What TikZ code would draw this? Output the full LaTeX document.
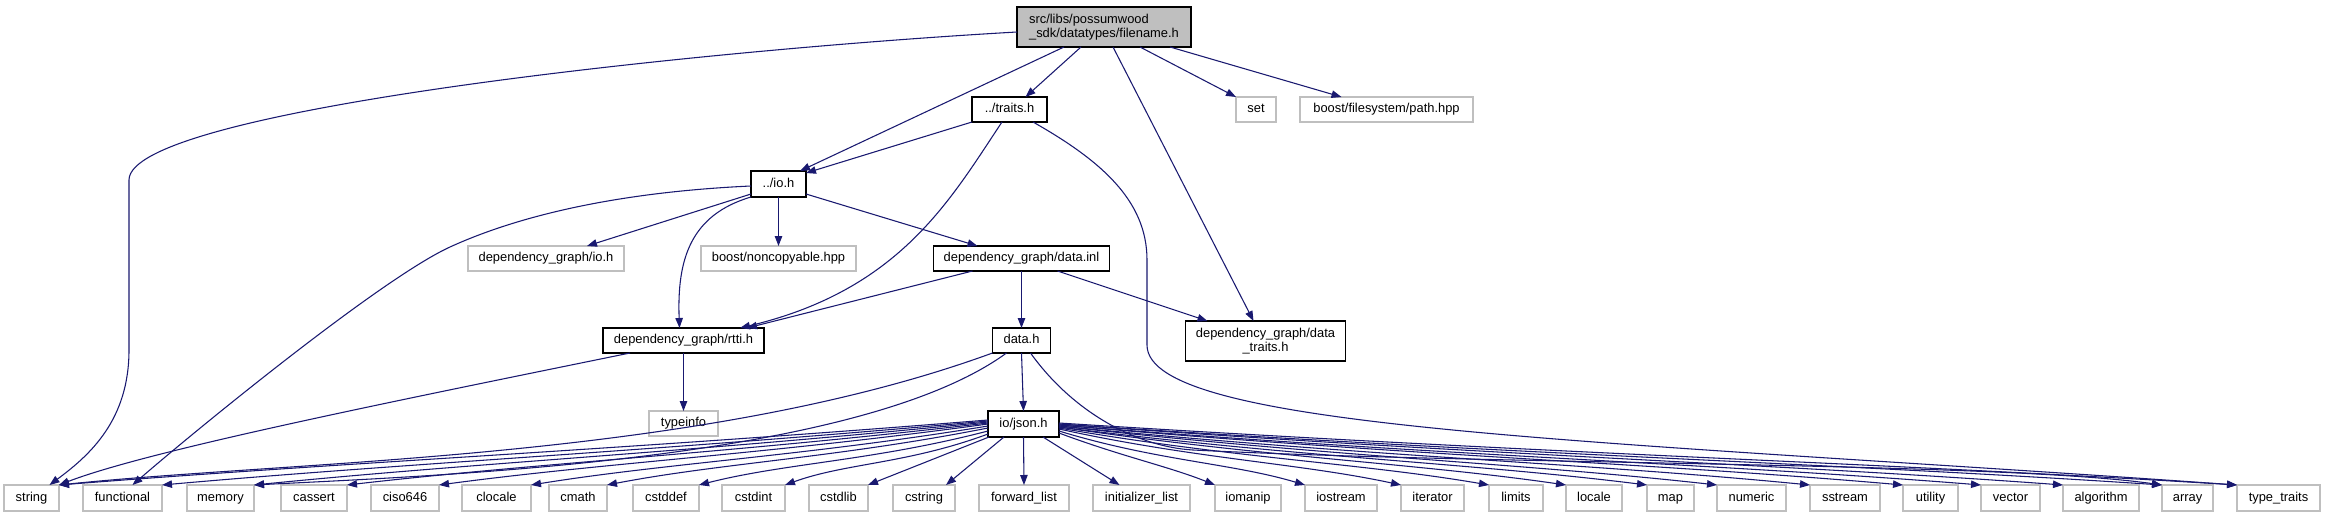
\documentclass[tikz,border=0pt]{standalone}
\usepackage{fontspec}
\setmainfont{Liberation Sans}
\usetikzlibrary{arrows.meta,calc}
\definecolor{edgecol}{HTML}{191970}
\definecolor{sysgray}{HTML}{BFBFBF}
\begin{document}
\begin{tikzpicture}[x=0.75pt,y=-0.75pt,
  every node/.style={font=\fontsize{9.67pt}{10.7pt}\selectfont, inner sep=0pt, outer sep=0pt},
  bw/.style={minimum width={(#1)*0.75pt}},
  bh/.style={minimum height={(#1)*0.75pt}},
  onel/.style={text height=7.1pt, text depth=2.1pt},
  localbox/.style={draw=black, line width=0.9pt, fill=white, rectangle},
  sysbox/.style={draw=sysgray, line width=0.9pt, fill=white, rectangle, onel, bh=26},
  edge/.style={draw=edgecol, line width=0.8pt, -{Triangle[length=7.5pt,width=5.6pt]}}]
\fill[white] (0,0) rectangle (2325,517);
\useasboundingbox (0,0) rectangle (2325,517);

% nodes
\node[localbox, fill=sysgray, bw=174, bh=40, align=left] (root) at (1104,27) {src/libs/possumwood\\\_sdk/datatypes/filename.h};
\node[localbox, onel, bw=75, bh=25] (traits) at (1009.5,109.5) {../traits.h};
\node[sysbox, bw=40, bh=25] (set) at (1256,109.5) {set};
\node[sysbox, bw=173, bh=25] (path) at (1386.5,109.5) {boost/filesystem/path.hpp};
\node[localbox, onel, bw=55, bh=26] (io) at (778.5,184) {../io.h};
\node[sysbox, bw=156, bh=25] (dgio) at (546,258.5) {dependency\_graph/io.h};
\node[sysbox, bw=155, bh=25] (noncopy) at (778.5,258.5) {boost/noncopyable.hpp};
\node[localbox, onel, bw=176, bh=25] (datainl) at (1021.5,258.5) {dependency\_graph/data.inl};
\node[localbox, onel, bw=161, bh=25] (rtti) at (683.5,340.5) {dependency\_graph/rtti.h};
\node[localbox, onel, bw=58, bh=25] (datah) at (1021.5,340.5) {data.h};
\node[localbox, bw=160, bh=40, align=center] (dtraits) at (1265.5,341) {dependency\_graph/data\\\_traits.h};
\node[sysbox, bw=69, bh=25] (typeinfo) at (683.5,423.5) {typeinfo};
\node[localbox, onel, bw=71, bh=26] (json) at (1023.5,424) {io/json.h};

\foreach \n/\l/\r/\s in {string/4/59/string, functional/83/162/functional, memory/187/254/memory,
  cassert/281/347/cassert, ciso646/371/439/ciso646, clocale/462/531/clocale, cmath/549/607/cmath,
  cstddef/633/699/cstddef, cstdint/722/785/cstdint, cstdlib/809/868/cstdlib, cstring/893/955/cstring,
  forwardlist/979/1069/forward\_list, initlist/1093/1190/initializer\_list, iomanip/1215/1281/iomanip,
  iostream/1305/1377/iostream, iterator/1401/1464/iterator, limits/1489/1543/limits,
  locale/1566/1622/locale, map/1647/1694/map, numeric/1717/1786/numeric, sstream/1810/1880/sstream,
  utility/1903/1958/utility, vector/1981/2040/vector, algorithm/2063/2139/algorithm,
  array/2162/2213/array, typetraits/2237/2320/type\_traits}
  \node[sysbox, bw={\r-\l}] (\n) at ({(\l+\r)/2},498) {\s};

% root edges
\draw[edge] ($(root.west)+(0,5)$) .. controls (700,50) and (129,110) .. (129,180) -- (129,350)
  .. controls (129,420) and (90,455) .. ($(string.north)+(18,0)$);
\draw[edge] ($(root.south west)+(47,0)$) -- ($(io.north east)+(-6,0)$);
\draw[edge] ($(root.south west)+(64,0)$) -- ($(traits.north)+(16,0)$);
\draw[edge] ($(root.south west)+(96,0)$) -- ($(dtraits.north)+(-12,0)$);
\draw[edge] ($(root.south west)+(123,0)$) -- (set.north west);
\draw[edge] ($(root.south west)+(153,0)$) -- ($(path.north)+(-45,0)$);

% traits edges
\draw[edge] (traits.south west) -- ($(io.north east)+(0,2)$);
\draw[edge] ($(traits.south west)+(30,0)$) .. controls (950,200) and (900,290) .. ($(rtti.north east)+(-24,0)$);
\draw[edge] ($(traits.south east)+(-14,0)$) .. controls (1100,160) and (1147,200) .. (1147,260) -- (1147,345)
  .. controls (1147,430) and (1600,440) .. (typetraits.north west);

% io edges
\draw[edge] ($(io.west)+(0,2)$) .. controls (620,192) and (520,215) .. (450,247)
  .. controls (380,279) and (190,435) .. ($(functional.north)+(10,0)$);
\draw[edge] ($(io.south west)+(0,-3)$) -- ($(dgio.north east)+(-37,0)$);
\draw[edge] (io.south) -- (noncopy.north);
\draw[edge] (io.south west) .. controls (690,215) and (677,260) .. ($(rtti.north)+(-4,0)$);
\draw[edge] ($(io.south east)+(0,-3)$) -- ($(datainl.north west)+(44,0)$);

% data.inl edges
\draw[edge] ($(datainl.south west)+(39,0)$) -- ($(rtti.north east)+(-17,0)$);
\draw[edge] (datainl.south) -- (datah.north);
\draw[edge] ($(datainl.south west)+(124,0)$) -- ($(dtraits.north west)+(22,0)$);

% rtti edges
\draw[edge] ($(rtti.south west)+(27,0)$) .. controls (400,400) and (150,450) .. (string.north east);
\draw[edge] (rtti.south) -- (typeinfo.north);

% data.h edges
\draw[edge] (datah.south) -- (json.north);
\draw[edge] (datah.south west) .. controls (700,460) and (300,460) .. (string.north east);
\draw[edge] ($(datah.south west)+(14,0)$) .. controls (860,460) and (450,475) .. (memory.north east);
\draw[edge] ($(datah.south east)+(-20,0)$) .. controls (1075,415) and (1140,447) .. (1193,450)
  .. controls (1493,465) and (2000,462) .. (array.north west);

% json edges
\foreach \t/\D/\sy in {string/929/-4, functional/826/-3, memory/734/-2, cassert/641/-1, ciso646/549/0,
  clocale/457/2, cmath/381/4, cstddef/289/7, cstdint/203/10}
  \draw[edge] ($(json.west)+(0,\sy)$) .. controls +({-0.4*\D},30) and +({0.3*\D},-22) .. (\t.north east);
\draw[edge] ($(json.south west)+(1,0)$) -- (cstdlib.north east);
\draw[edge] ($(json.south west)+(16,0)$) -- ($(cstring.north east)+(-9,0)$);
\draw[edge] (json.south) -- (forwardlist.north);
\draw[edge] ($(json.south east)+(-16,0)$) -- ($(initlist.north)+(-22,0)$);
\foreach \t/\D/\sy in {iomanip/156/9, iostream/246/7, iterator/342/5, limits/430/4, locale/507/3,
  map/588/3, numeric/658/2, sstream/751/2, utility/844/1, vector/922/1, algorithm/1004/0,
  array/1103/0, typetraits/1178/-1}
  \draw[edge] ($(json.east)+(0,\sy)$) .. controls +({0.4*\D},{min(30,0.15*\D)}) and +({-0.3*\D},{-min(22,0.12*\D)}) .. (\t.north west);
\end{tikzpicture}
\end{document}
